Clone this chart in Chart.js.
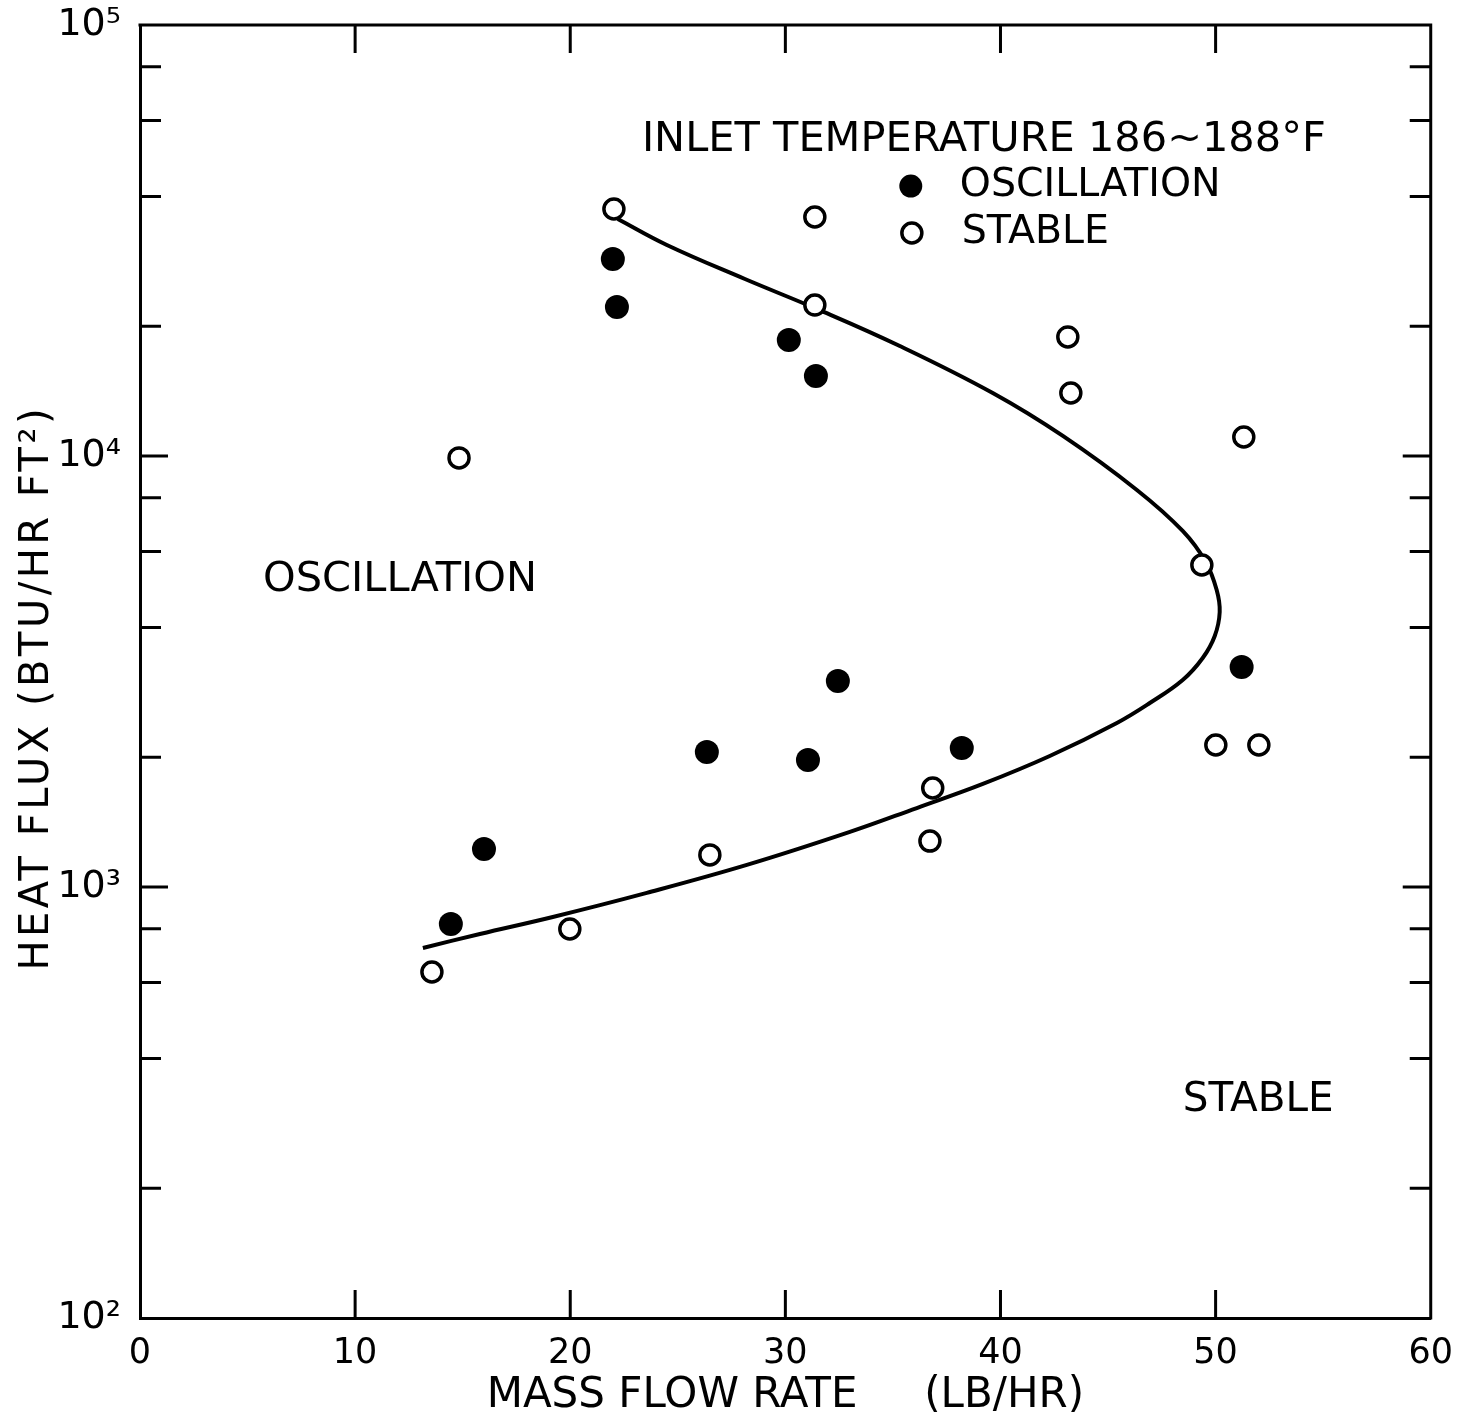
<!DOCTYPE html>
<html>
<head>
<meta charset="utf-8">
<script src="https://cdn.jsdelivr.net/npm/chart.js@4.4.0/dist/chart.umd.min.js"></script>
<style>
  html, body { margin: 0; padding: 0; background: #ffffff; }
  #wrap { width: 1468px; height: 1421px; position: relative; }
</style>
</head>
<body>
<div id="wrap"><canvas id="c" width="1468" height="1421"></canvas></div>
<script>
// ---------------- data ----------------
const xTickValues = [0, 10, 20, 30, 40, 50, 60];
const yTickValues = [100, 1000, 10000, 100000];
const yTickLabels = ['10²', '10³', '10⁴', '10⁵'];
const yMinorTicks = [200, 400, 600, 800, 2000, 4000, 6000, 8000, 20000, 40000, 60000, 80000];

// oscillation (filled circles): mass flow rate (lb/hr), heat flux (btu/hr ft2)
const oscX = [21.98, 22.17, 30.16, 31.42, 32.44, 26.35, 31.05, 15.99, 14.45, 38.20, 51.21];
const oscY = [28650, 22160, 18580, 15330, 3006, 2057, 1971, 1225, 821, 2101, 3238];

// stable (open circles)
const stabX = [22.03, 31.37, 31.37, 14.83, 43.13, 43.27, 51.31, 49.36, 50.01, 52.01, 36.85, 36.72, 26.49, 19.98, 13.57];
const stabY = [37420, 35850, 22400, 9900, 18890, 14000, 11070, 5586, 2135, 2135, 1697, 1278, 1187, 799, 635];

// stability boundary curve
const curveX = [22.21, 24.49, 28.12, 31.46, 35.32, 39.64, 42.90, 46.34, 48.47, 49.54, 50.05, 50.19, 49.96, 49.40, 48.47, 46.94, 45.41, 42.29, 39.18, 36.11, 33.00, 28.21, 23.56, 19.19, 15.80, 13.15];
const curveY = [35470, 30870, 25740, 21940, 17995, 14000, 11130, 8340, 6699, 5677, 4888, 4346, 3823, 3399, 3022, 2672, 2402, 2013, 1734, 1525, 1342, 1125, 969, 852, 778, 722];

const xTitle = 'MASS FLOW RATE     (LB/HR)';
const yTitle = 'HEAT FLUX (BTU/HR FT²)  ';
const legendLabels = ['OSCILLATION', 'STABLE'];
const regionLabels = ['OSCILLATION', 'STABLE'];
const noteText = 'INLET TEMPERATURE 186~188°F';

// ---------------- helpers ----------------
const pts = (xs, ys) => xs.map((x, i) => ({ x: x, y: ys[i] }));
const FONT = '"DejaVu Sans", "Liberation Sans", sans-serif';

// letter spacing for the vertical axis title only
const titleSpacingPlugin = {
  id: 'titleSpacing',
  afterLayout(chart, args, opts) {
    const s = chart.scales.y;
    if (s && !s.__spaced) {
      const orig = s.drawTitle.bind(s);
      s.drawTitle = function () {
        chart.ctx.save();
        chart.ctx.letterSpacing = opts.spacing + 'px';
        orig();
        chart.ctx.restore();
      };
      s.__spaced = true;
    }
  }
};

const framePlugin = {
  id: 'frameTicks',
  afterDraw(chart, args, opts) {
    const ctx = chart.ctx;
    const a = chart.chartArea;
    const xs = chart.scales.x, ys = chart.scales.y;
    ctx.save();
    ctx.strokeStyle = '#000';
    ctx.lineWidth = 3;
    ctx.lineCap = 'square';
    ctx.beginPath();
    ctx.moveTo(a.left, a.top); ctx.lineTo(a.right, a.top); ctx.lineTo(a.right, a.bottom);
    ctx.stroke();
    ctx.lineCap = 'butt';
    ctx.beginPath();
    xTickValues.forEach(v => {
      if (v <= xs.min || v >= xs.max) return;
      const px = xs.getPixelForValue(v);
      ctx.moveTo(px, a.bottom); ctx.lineTo(px, a.bottom - opts.major);
      ctx.moveTo(px, a.top); ctx.lineTo(px, a.top + opts.major);
    });
    yTickValues.forEach(v => {
      if (v <= ys.min || v >= ys.max) return;
      const py = ys.getPixelForValue(v);
      ctx.moveTo(a.left, py); ctx.lineTo(a.left + opts.major, py);
      ctx.moveTo(a.right, py); ctx.lineTo(a.right - opts.major, py);
    });
    yMinorTicks.forEach(v => {
      const py = ys.getPixelForValue(v);
      ctx.moveTo(a.left, py); ctx.lineTo(a.left + opts.minor, py);
      ctx.moveTo(a.right, py); ctx.lineTo(a.right - opts.minor, py);
    });
    ctx.stroke();
    ctx.restore();
  }
};

const notesPlugin = {
  id: 'notes',
  afterDraw(chart, args, opts) {
    const ctx = chart.ctx;
    const xs = chart.scales.x, ys = chart.scales.y;
    ctx.save();
    ctx.fillStyle = '#000';
    ctx.strokeStyle = '#000';
    opts.items.forEach(it => {
      const px = xs.getPixelForValue(it.x), py = ys.getPixelForValue(it.y);
      if (it.marker) {
        ctx.beginPath();
        if (it.marker === 'filled') {
          ctx.arc(px, py, 11.5, 0, Math.PI * 2);
          ctx.fill();
        } else {
          ctx.arc(px, py, 10, 0, Math.PI * 2);
          ctx.lineWidth = 3.5; ctx.fillStyle = '#fff'; ctx.fill(); ctx.fillStyle = '#000'; ctx.stroke();
        }
      } else {
        ctx.font = it.size + 'px ' + FONT;
        ctx.letterSpacing = (it.spacing || 0) + 'px';
        ctx.textAlign = 'left';
        ctx.textBaseline = 'middle';
        ctx.fillText(it.text, px, py);
      }
    });
    ctx.restore();
  }
};

// ---------------- chart ----------------
new Chart(document.getElementById('c'), {
  type: 'scatter',
  data: {
    datasets: [
      {
        label: legendLabels[1],
        data: pts(stabX, stabY),
        pointStyle: 'circle',
        pointRadius: 10,
        pointHoverRadius: 10,
        pointBorderWidth: 3.5,
        pointBackgroundColor: '#ffffff',
        pointBorderColor: '#000000',
        showLine: false
      },
      {
        label: legendLabels[0],
        data: pts(oscX, oscY),
        pointStyle: 'circle',
        pointRadius: 12,
        pointHoverRadius: 12,
        pointBorderWidth: 0,
        pointBackgroundColor: '#000000',
        pointBorderColor: '#000000',
        showLine: false
      },
      {
        label: 'boundary',
        data: pts(curveX, curveY),
        showLine: true,
        pointRadius: 0,
        borderColor: '#000000',
        borderWidth: 4,
        tension: 0.4,
        fill: false
      }
    ]
  },
  options: {
    responsive: false,
    devicePixelRatio: 1,
    animation: false,
    events: [],
    layout: { padding: { left: 0, right: 37, top: 25, bottom: 0 } },
    scales: {
      x: {
        type: 'linear',
        position: 'bottom',
        min: 0, max: 60,
        afterBuildTicks: s => { s.ticks = xTickValues.map(v => ({ value: v })); },
        afterFit: s => { s.height = 103; },
        ticks: {
          color: '#000',
          font: { family: FONT, size: 35 },
          padding: 15,
          maxRotation: 0,
          autoSkip: false,
          callback: v => String(v)
        },
        grid: { display: false, drawTicks: false },
        border: { display: true, color: '#000', width: 3 },
        title: {
          display: true,
          text: xTitle,
          color: '#000',
          font: { family: FONT, size: 42 },
          padding: { top: 0, bottom: 0 }
        }
      },
      y: {
        type: 'logarithmic',
        position: 'left',
        min: 100, max: 100000,
        afterBuildTicks: s => { s.ticks = yTickValues.map(v => ({ value: v, major: true })); },
        afterFit: s => { s.width = 140; },
        ticks: {
          color: '#000',
          font: { family: FONT, size: 38, lineHeight: 0.25 },
          padding: 19,
          autoSkip: false,
          callback: v => yTickLabels[yTickValues.indexOf(v)] || ''
        },
        grid: { display: false, drawTicks: false },
        border: { display: true, color: '#000', width: 3 },
        title: {
          display: true,
          text: yTitle,
          color: '#000',
          font: { family: FONT, size: 40 },
          padding: { top: 14, bottom: 0 }
        }
      }
    },
    plugins: {
      legend: { display: false },
      tooltip: { enabled: false },
      titleSpacing: { spacing: 3.5 },
      frameTicks: { major: 28, minor: 21 },
      notes: {
        items: [
          { text: noteText, x: 23.33, y: 54100, size: 41.5, spacing: 0 },
          { marker: 'filled', x: 35.83, y: 42300 },
          { text: legendLabels[0], x: 38.11, y: 42300, size: 39.5, spacing: 0 },
          { marker: 'open', x: 35.88, y: 32920 },
          { text: legendLabels[1], x: 38.2, y: 32920, size: 39.5, spacing: 0 },
          { text: regionLabels[0], x: 5.72, y: 5157, size: 41.5, spacing: 0 },
          { text: regionLabels[1], x: 48.47, y: 320, size: 40.5, spacing: 0 }
        ]
      }
    }
  },
  plugins: [titleSpacingPlugin, framePlugin, notesPlugin]
});
</script>
</body>
</html>
